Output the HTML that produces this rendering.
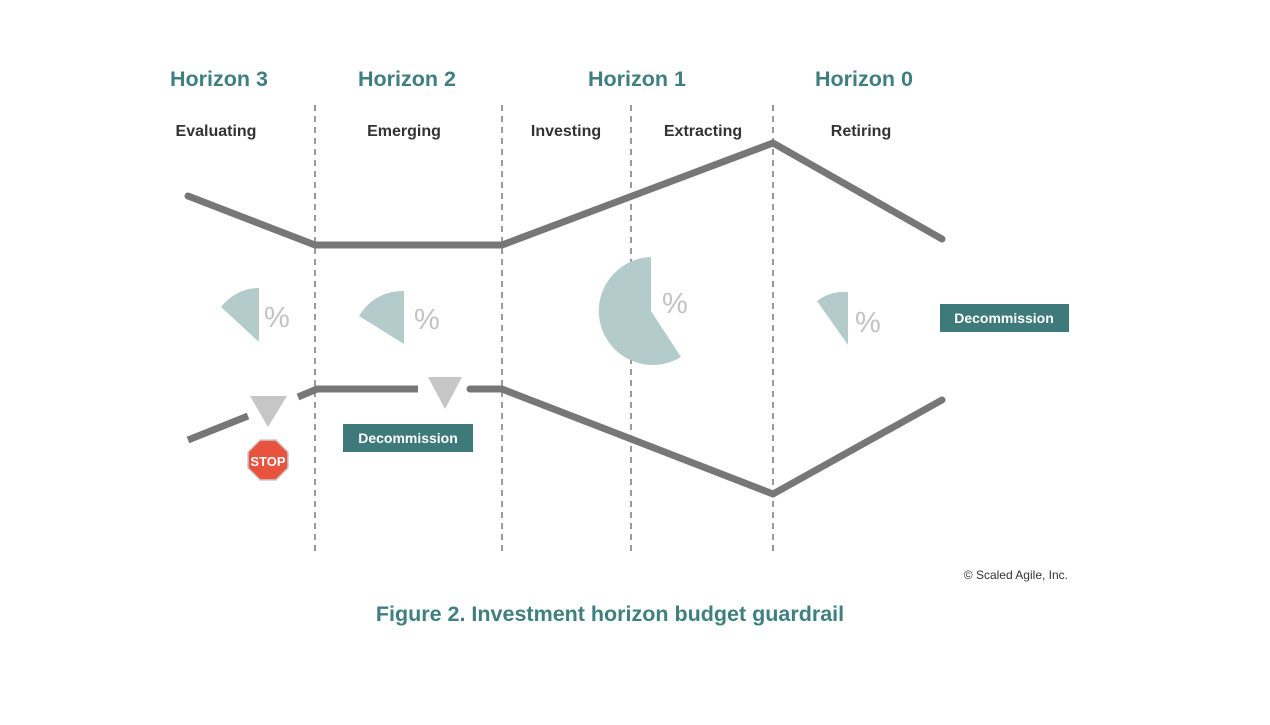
<!DOCTYPE html>
<html><head><meta charset="utf-8"><style>
html,body{margin:0;padding:0;background:#fff;}
svg{display:block;}
text{font-family:"Liberation Sans",Arial,sans-serif;}
</style></head><body>
<svg width="1270" height="725" viewBox="0 0 1270 725" xmlns="http://www.w3.org/2000/svg">
<rect width="1270" height="725" fill="#fff"/>
<g font-weight="bold" fill="#3f7f80" font-size="21.5" text-anchor="middle">
<text x="219" y="86">Horizon 3</text>
<text x="407" y="86">Horizon 2</text>
<text x="637" y="86">Horizon 1</text>
<text x="864" y="86">Horizon 0</text>
</g>
<g font-weight="bold" fill="#333" font-size="16" text-anchor="middle">
<text x="216" y="136">Evaluating</text>
<text x="404" y="136">Emerging</text>
<text x="566" y="136">Investing</text>
<text x="703" y="136">Extracting</text>
<text x="861" y="136">Retiring</text>
</g>
<g stroke="#7a7a7a" stroke-width="1.5" stroke-dasharray="6,5">
<line x1="315" y1="105" x2="315" y2="553"/>
<line x1="502" y1="105" x2="502" y2="553"/>
<line x1="631" y1="105" x2="631" y2="553"/>
<line x1="773" y1="105" x2="773" y2="553"/>
</g>
<g fill="#b4cbcb">
<path d="M259,288 A48,48 0 0 0 221,307 L259,342 Z"/>
<path d="M404,291 A50,50 0 0 0 359,316 L404,344 Z"/>
<path d="M651,257 A54,54 0 1 0 681,357 L651,311 Z"/>
<path d="M848,292 A45,45 0 0 0 817,301 L848,345 Z"/>
</g>
<g fill="#c2c2c2" font-size="29">
<text x="264" y="327">%</text>
<text x="414" y="329">%</text>
<text x="662" y="313">%</text>
<text x="855" y="332">%</text>
</g>
<g stroke="#777" stroke-width="7" fill="none" stroke-linecap="round" stroke-linejoin="round">
<polyline points="188,196 315,245 502,245 773,143 942,239"/>
<line x1="188" y1="440" x2="248" y2="416" stroke-linecap="butt"/>
<polyline points="298,397 317,389 418,389" stroke-linecap="butt"/>
<polyline points="470,389 502,389 773,494 942,400"/>
</g>
<g fill="#c6c6c6">
<polygon points="250,396 287,396 268,427"/>
<polygon points="428,377 462,377 445,409"/>
</g>
<polygon points="260,440 276,440 288,452 288,468 276,480 260,480 248,468 248,452" fill="#e8533f" stroke="#ccc" stroke-width="1.5"/>
<text x="268" y="466" font-size="13" font-weight="bold" fill="#fff" text-anchor="middle">STOP</text>
<rect x="343" y="424" width="130" height="28" fill="#3f7a7b"/>
<text x="408" y="443" font-size="14" font-weight="bold" fill="#fff" text-anchor="middle">Decommission</text>
<rect x="940" y="304" width="129" height="28" fill="#3f7a7b"/>
<text x="1004" y="323" font-size="14" font-weight="bold" fill="#fff" text-anchor="middle">Decommission</text>
<text x="1068" y="579" font-size="12" fill="#333" text-anchor="end">© Scaled Agile, Inc.</text>
<text x="610" y="621" font-size="21.5" font-weight="bold" fill="#3f7f80" text-anchor="middle">Figure 2. Investment horizon budget guardrail</text>
</svg>
</body></html>
